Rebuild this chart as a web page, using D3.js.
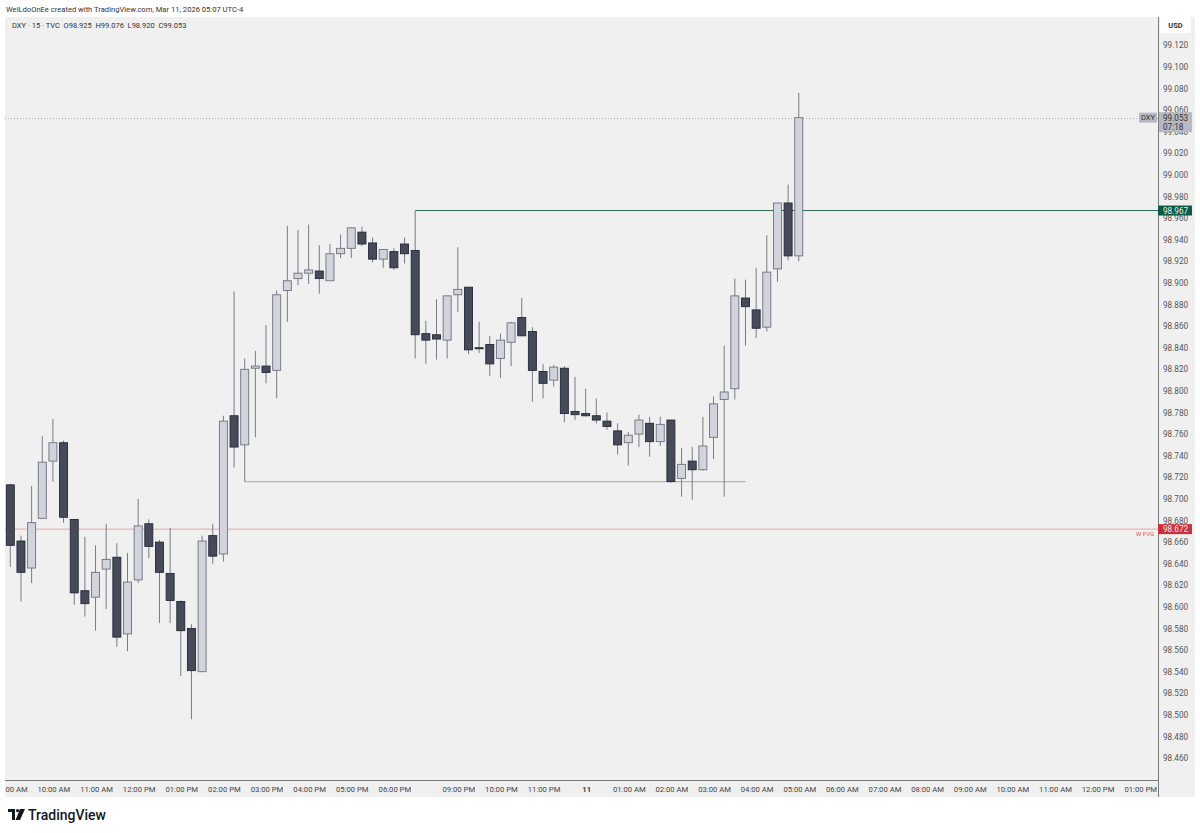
<!DOCTYPE html>
<html><head><meta charset="utf-8">
<script src="https://cdn.jsdelivr.net/npm/d3@7"></script>
<style>
html,body{margin:0;padding:0;background:#fff;}
svg{display:block;font-family:Roboto, "Liberation Sans", Arial, sans-serif;}
</style></head>
<body>
<svg id="chart" width="1200" height="833"></svg>
<script>
// ---- DATA ----
const opens  = [98.713,98.661,98.636,98.682,98.735,98.752,98.681,98.615,98.609,98.635,98.646,98.575,98.625,98.677,98.660,98.631,98.605,98.580,98.540,98.666,98.649,98.777,98.750,98.821,98.823,98.819,98.893,98.904,98.909,98.911,98.902,98.927,98.932,98.947,98.937,98.922,98.929,98.936,98.930,98.853,98.852,98.847,98.889,98.896,98.840,98.843,98.830,98.845,98.868,98.855,98.818,98.810,98.821,98.781,98.779,98.777,98.772,98.763,98.752,98.760,98.770,98.753,98.773,98.719,98.735,98.727,98.757,98.792,98.802,98.886,98.875,98.859,98.913,98.974,98.925];
const highs  = [98.714,98.666,98.712,98.758,98.774,98.754,98.681,98.665,98.657,98.677,98.659,98.650,98.700,98.681,98.662,98.673,98.606,98.584,98.666,98.677,98.777,98.892,98.830,98.837,98.861,98.893,98.953,98.949,98.954,98.935,98.936,98.945,98.951,98.952,98.942,98.931,98.932,98.942,98.967,98.865,98.885,98.888,98.933,98.896,98.864,98.851,98.853,98.864,98.886,98.859,98.825,98.824,98.823,98.813,98.802,98.793,98.780,98.770,98.762,98.778,98.776,98.776,98.773,98.747,98.748,98.776,98.795,98.842,98.904,98.903,98.914,98.944,98.974,98.991,99.076];
const lows   = [98.637,98.605,98.622,98.682,98.716,98.678,98.602,98.591,98.578,98.598,98.563,98.559,98.622,98.645,98.585,98.585,98.536,98.496,98.540,98.640,98.642,98.729,98.716,98.757,98.807,98.793,98.864,98.898,98.899,98.890,98.902,98.923,98.923,98.934,98.919,98.914,98.912,98.918,98.830,98.825,98.829,98.830,98.873,98.834,98.835,98.814,98.812,98.823,98.851,98.790,98.793,98.804,98.771,98.773,98.776,98.770,98.764,98.741,98.731,98.748,98.739,98.749,98.715,98.702,98.699,98.726,98.737,98.702,98.792,98.842,98.849,98.855,98.901,98.921,98.920];
const closes = [98.657,98.632,98.678,98.734,98.752,98.683,98.613,98.603,98.632,98.644,98.572,98.623,98.675,98.656,98.632,98.606,98.578,98.541,98.661,98.647,98.772,98.748,98.820,98.823,98.817,98.889,98.902,98.909,98.912,98.904,98.927,98.932,98.951,98.936,98.922,98.931,98.914,98.927,98.852,98.847,98.848,98.888,98.894,98.838,98.839,98.825,98.847,98.863,98.851,98.819,98.807,98.822,98.779,98.778,98.777,98.773,98.767,98.750,98.759,98.773,98.753,98.769,98.716,98.732,98.727,98.749,98.788,98.799,98.888,98.878,98.858,98.910,98.974,98.925,99.053];

const priceTicks = [99.120,99.100,99.080,99.060,99.040,99.020,99.000,98.980,98.960,98.940,98.920,98.900,98.880,98.860,98.840,98.820,98.800,98.780,98.760,98.740,98.720,98.700,98.680,98.660,98.640,98.620,98.600,98.580,98.560,98.540,98.520,98.500,98.480,98.460];
const timeTickIdx    = [0,4,8,12,16,20,24,28,32,36,42,46,50,54,58,62,66,70,74,78,82,86,90,94,98,102,106];
const timeTickLabels = ["09:00 AM","10:00 AM","11:00 AM","12:00 PM","01:00 PM","02:00 PM","03:00 PM","04:00 PM","05:00 PM","06:00 PM","09:00 PM","10:00 PM","11:00 PM","11","01:00 AM","02:00 AM","03:00 AM","04:00 AM","05:00 AM","06:00 AM","07:00 AM","08:00 AM","09:00 AM","10:00 AM","11:00 AM","12:00 PM","01:00 PM"];

const levelGreen = 98.967, levelGreenStart = 38;
const levelGray = 98.716, levelGrayStart = 22, levelGrayEnd = 69;
const levelRed = 98.672, levelRedText = "W FVG";
const lastPrice = 99.053, countdown = "07:18";

// ---- LAYOUT ----
const svg = d3.select("#chart");
const pane = {x0:5, x1:1158, y0:17, y1:780};
const axisRight = 1195, axisBottom = 797;

const x = d3.scaleLinear().domain([0, 106]).range([10.3, 10.3 + 106*10.655]);
const y = d3.scaleLinear().domain([99.120, 98.460]).range([45.3, 45.3 + 0.66*1080]);

// backgrounds
svg.append("rect").attr("x",pane.x0).attr("y",pane.y0).attr("width",axisRight-pane.x0).attr("height",axisBottom-pane.y0).attr("fill","#f0f0f0");

// header
svg.append("text").attr("x",6).attr("y",12).attr("font-size",7.6).attr("fill","#333")
  .text("WelLdoOnEe created with TradingView.com, Mar 11, 2026 05:07 UTC-4");
svg.append("text").attr("x",12).attr("y",28).attr("font-size",7.5).attr("fill","#333").attr("xml:space","preserve")
  .text("DXY · 15 · TVC  O98.925  H99.076  L98.920  C99.053");

// clip
svg.append("defs").append("clipPath").attr("id","pclip").append("rect")
  .attr("x",pane.x0).attr("y",pane.y0).attr("width",pane.x1-pane.x0).attr("height",pane.y1-pane.y0);
const g = svg.append("g").attr("clip-path","url(#pclip)");

// level lines
g.append("line").attr("x1",pane.x0).attr("x2",pane.x1).attr("y1",Math.round(y(lastPrice))+0.5).attr("y2",Math.round(y(lastPrice))+0.5)
  .attr("stroke","#a9acb4").attr("stroke-width",1).attr("stroke-dasharray","1,2");
g.append("line").attr("x1",pane.x0).attr("x2",pane.x1).attr("y1",y(levelRed)).attr("y2",y(levelRed))
  .attr("stroke","#e6a8aa").attr("stroke-width",1);
g.append("line").attr("x1",x(levelGrayStart)).attr("x2",x(levelGrayEnd)).attr("y1",y(levelGray)).attr("y2",y(levelGray))
  .attr("stroke","#b4b4b4").attr("stroke-width",1.2);
g.append("line").attr("x1",x(levelGreenStart)).attr("x2",pane.x1).attr("y1",y(levelGreen)).attr("y2",y(levelGreen))
  .attr("stroke","#2e6655").attr("stroke-width",1);

// candles
const idx = d3.range(opens.length);
const bw = 8;
g.selectAll("line.wick").data(idx).join("line").attr("class","wick")
  .attr("x1",i=>x(i)).attr("x2",i=>x(i))
  .attr("y1",i=>y(highs[i])).attr("y2",i=>y(lows[i]))
  .attr("stroke","#787b86").attr("stroke-width",1);
g.selectAll("rect.body").data(idx).join("rect").attr("class","body")
  .attr("x",i=>x(i)-bw/2).attr("width",bw)
  .attr("y",i=>y(Math.max(opens[i],closes[i])))
  .attr("height",i=>Math.max(1,Math.abs(y(opens[i])-y(closes[i]))))
  .attr("fill",i=>closes[i]>=opens[i]?"#d1d4dc":"#454b5b")
  .attr("stroke",i=>closes[i]>=opens[i]?"#6f727c":"#252833")
  .attr("stroke-width",0.9);

// W FVG text
svg.append("text").attr("x",1154).attr("y",y(levelRed)+7).attr("text-anchor","end")
  .attr("font-size",6).attr("fill","#d0505a").text(levelRedText);

// axes borders
svg.append("line").attr("x1",pane.x1+0.5).attr("x2",pane.x1+0.5).attr("y1",pane.y0).attr("y2",axisBottom).attr("stroke","#7a7a7a");
svg.append("line").attr("x1",pane.x0).attr("x2",pane.x1+0.5).attr("y1",pane.y1+0.5).attr("y2",pane.y1+0.5).attr("stroke","#7a7a7a");

// price axis labels
svg.selectAll("text.pt").data(priceTicks).join("text").attr("class","pt")
  .attr("x",1163).attr("y",d=>y(d)+3).attr("font-size",8.2).attr("fill","#555")
  .text(d=>d.toFixed(3));

// USD box
svg.append("rect").attr("x",1160).attr("y",17).attr("width",31).attr("height",16).attr("fill","#fff").attr("rx",2);
svg.append("text").attr("x",1175.5).attr("y",28).attr("text-anchor","middle").attr("font-size",7.5).attr("font-weight","bold").attr("fill","#333").text("USD");

// time axis labels
svg.selectAll("text.tt").data(timeTickIdx).join("text").attr("class","tt")
  .attr("x",i=>x(i)+1).attr("y",792).attr("text-anchor","middle")
  .attr("font-size",7.7).attr("fill","#444")
  .attr("font-weight",(i,k)=>timeTickLabels[k]==="11"?"bold":"normal")
  .text((i,k)=>timeTickLabels[k]);
// cover time labels beyond pane (on price-axis column) and left edge
svg.append("rect").attr("x",0).attr("y",782).attr("width",5).attr("height",15).attr("fill","#fff");
svg.append("rect").attr("x",pane.x1+1).attr("y",781).attr("width",axisRight-pane.x1-1).attr("height",16).attr("fill","#f0f0f0");

// last price labels
const yl = y(lastPrice);
svg.append("rect").attr("x",1139).attr("y",yl-5).attr("width",18).attr("height",10).attr("fill","#b7bac2");
svg.append("text").attr("x",1148).attr("y",yl+2.8).attr("text-anchor","middle").attr("font-size",7.5).attr("fill","#333").text("DXY");
svg.append("rect").attr("x",1159).attr("y",yl-5.5).attr("width",33).attr("height",20).attr("fill","#b7bac2");
svg.append("text").attr("x",1163).attr("y",yl+3).attr("font-size",8.2).attr("fill","#333").text(lastPrice.toFixed(3));
svg.append("text").attr("x",1163).attr("y",yl+12).attr("font-size",8.2).attr("fill","#333").text(countdown);

// green label
const yg = y(levelGreen);
svg.append("rect").attr("x",1158).attr("y",yg-5).attr("width",34).attr("height",10).attr("fill","#0e5a46");
svg.append("text").attr("x",1163).attr("y",yg+3).attr("font-size",8.2).attr("fill","#e8efe9").text(levelGreen.toFixed(3));
// red label
const yr = y(levelRed);
svg.append("rect").attr("x",1158).attr("y",yr-5).attr("width",34).attr("height",10).attr("fill","#c8313e");
svg.append("text").attr("x",1163).attr("y",yr+3).attr("font-size",8.2).attr("fill","#fbe9ea").text(levelRed.toFixed(3));

// TradingView logo
const logo = svg.append("g").attr("transform","translate(8,809)");
logo.append("path").attr("d","M0,0 H7 V11 H4 V3 H0 Z").attr("fill","#131722");
logo.append("circle").attr("cx",9.5).attr("cy",1.6).attr("r",1.6).attr("fill","#131722");
logo.append("path").attr("d","M12,0 H17 L12,11 H7.5 Z").attr("fill","#131722");
svg.append("text").attr("x",28).attr("y",820).attr("font-size",14).attr("font-weight",500).attr("fill","#131722").text("TradingView");
</script>
</body></html>
